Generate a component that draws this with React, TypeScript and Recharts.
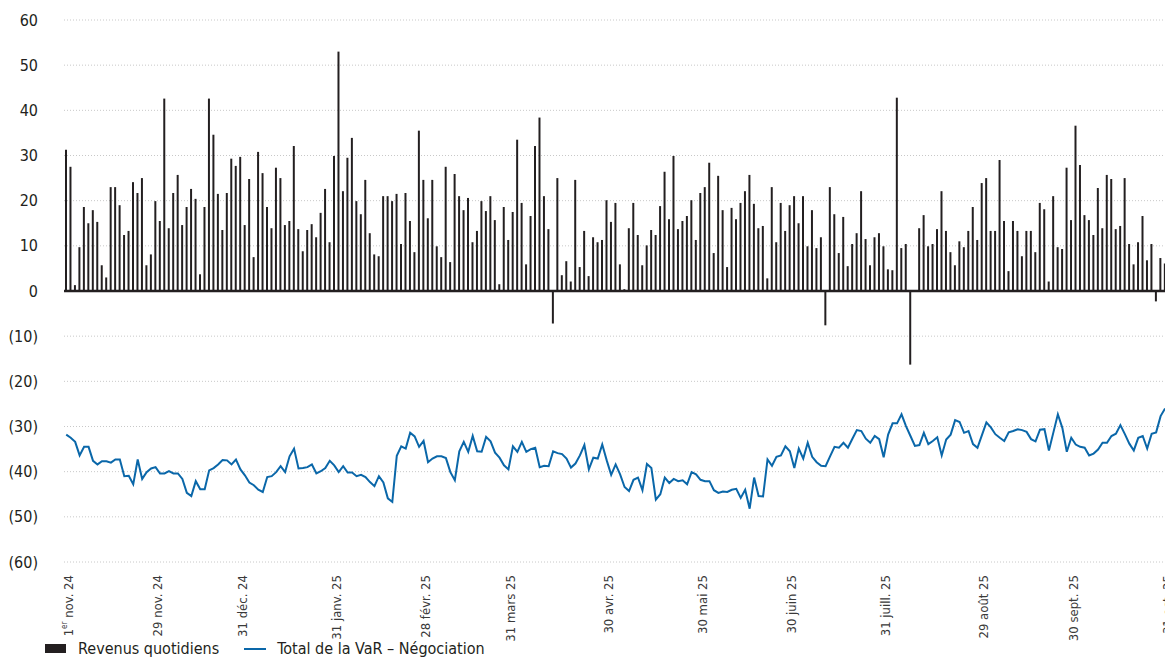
import React from 'react';
import { ComposedChart, Bar, Line, XAxis, YAxis, CartesianGrid, ReferenceLine } from 'recharts';

const revenus: number[] = [
  31.3, 27.5, 1.3, 9.7, 18.6, 15.0, 17.9, 15.3, 5.7, 3.0,
  23.0, 23.0, 19.0, 12.4, 13.3, 24.1, 21.7, 25.0, 5.7, 8.1,
  19.9, 15.5, 42.6, 13.9, 21.7, 25.7, 14.6, 18.6, 22.6, 20.4,
  3.7, 18.6, 42.6, 34.6, 21.5, 13.5, 21.7, 29.3, 27.7, 29.7,
  14.6, 24.8, 7.5, 30.8, 26.1, 18.6, 13.9, 27.3, 25.0, 14.6,
  15.5, 32.1, 13.7, 8.8, 13.5, 14.8, 11.9, 17.3, 22.6, 10.8,
  29.9, 53.0, 22.1, 29.5, 33.9, 19.9, 17.0, 24.6, 12.8, 8.1,
  7.7, 21.0, 21.0, 19.9, 21.5, 10.4, 21.7, 15.5, 8.6, 35.5,
  24.6, 16.1, 24.6, 9.9, 7.5, 27.5, 6.4, 25.9, 21.0, 17.9,
  20.6, 10.8, 13.3, 19.9, 17.7, 21.0, 15.7, 1.5, 18.6, 11.3,
  17.5, 33.5, 19.5, 5.9, 16.6, 32.1, 38.4, 21.0, 13.7, -7.2,
  25.0, 3.5, 6.6, 2.1, 24.6, 5.3, 13.3, 3.3, 11.9, 10.8,
  11.3, 20.1, 15.3, 19.5, 5.9, 0.4, 13.9, 19.5, 12.4, 5.7,
  10.1, 13.5, 12.4, 18.8, 26.4, 15.9, 29.9, 13.7, 15.5, 16.6,
  20.1, 11.3, 21.7, 23.0, 28.4, 8.4, 25.5, 17.9, 5.3, 18.4,
  15.9, 19.5, 22.1, 25.7, 19.3, 13.9, 14.4, 2.8, 23.0, 10.8,
  19.5, 13.3, 19.0, 21.0, 15.0, 21.0, 9.9, 17.9, 9.5, 11.9,
  -7.6, 23.0, 17.0, 8.4, 16.4, 5.5, 10.4, 12.8, 22.1, 11.5,
  5.7, 11.9, 12.8, 9.9, 4.8, 4.6, 42.8, 9.5, 10.4, -16.3,
  0, 13.9, 16.8, 9.9, 10.4, 13.7, 22.1, 13.3, 8.6, 5.7,
  11.0, 9.7, 13.3, 18.6, 11.3, 23.9, 25.0, 13.3, 13.3, 29.0,
  15.5, 4.4, 15.5, 13.3, 7.7, 13.3, 13.3, 8.6, 19.5, 18.1,
  2.1, 21.0, 9.7, 9.3, 27.3, 15.7, 36.6, 27.9, 16.8, 15.7,
  12.4, 22.8, 13.9, 25.7, 24.8, 13.7, 14.4, 25.0, 10.4, 5.9,
  10.8, 16.6, 6.8, 10.4, -2.3, 7.3, 6.1,
];

const varNegociation: number[] = [
  -31.8, -32.5, -33.4, -36.4, -34.5, -34.5, -37.6, -38.4, -37.7, -37.7,
  -38.0, -37.3, -37.3, -41.0, -40.9, -42.8, -37.3, -41.6, -40.1, -39.3,
  -39.0, -40.4, -40.4, -39.9, -40.4, -40.4, -41.6, -44.7, -45.4, -42.1,
  -43.9, -43.9, -39.7, -39.2, -38.4, -37.4, -37.5, -38.4, -37.3, -39.5,
  -40.8, -42.4, -43.0, -44.0, -44.5, -41.2, -41.0, -40.1, -38.8, -40.1,
  -36.6, -34.9, -39.3, -39.2, -39.0, -38.4, -40.4, -39.9, -39.2, -37.6,
  -38.6, -40.1, -38.8, -40.2, -40.2, -41.0, -40.7, -41.2, -42.3, -43.2,
  -41.0, -42.4, -45.9, -46.7, -36.5, -34.4, -34.9, -31.4, -32.2, -34.5,
  -33.2, -37.9, -37.1, -36.6, -36.6, -37.0, -40.1, -41.9, -35.5, -33.4,
  -35.6, -32.1, -35.5, -35.6, -32.3, -33.3, -35.8, -36.9, -38.6, -39.5,
  -34.4, -35.6, -33.4, -35.6, -35.0, -34.7, -39.0, -38.7, -38.8, -35.5,
  -35.9, -36.1, -37.1, -39.1, -38.2, -36.4, -34.1, -39.5, -36.9, -37.1,
  -34.0, -37.5, -40.7, -38.4, -40.6, -43.4, -44.3, -41.8, -41.3, -44.1,
  -38.3, -39.2, -46.2, -45.0, -41.3, -42.5, -41.6, -42.1,
  -41.9, -42.8, -40.1, -40.6, -41.8, -42.1, -42.1, -44.1, -44.7,
  -44.4, -44.5, -44.0, -43.8, -45.8, -44.0, -48.2, -41.3, -45.4, -45.5,
  -37.3, -38.7, -36.7, -36.4, -34.4, -35.5, -39.2, -34.9, -37.1, -33.6,
  -36.7, -37.9, -38.7, -38.8, -36.6, -34.5, -34.7, -33.6, -34.7, -32.7,
  -30.8, -31.0, -32.7, -33.6, -32.1, -32.8, -36.8, -31.8, -29.3, -29.3,
  -27.3, -29.9, -32.1, -34.3, -34.1, -31.4, -33.9, -33.2, -32.4, -36.4,
  -32.9, -31.8, -28.6, -29.0, -31.4, -31.0, -33.9, -34.7, -31.9, -29.1,
  -30.2, -31.7, -32.5, -33.2, -31.3, -31.0, -30.6, -30.8, -31.2, -32.8,
  -33.3, -30.7, -30.6, -35.3, -31.3, -27.3, -30.3, -35.6, -32.5, -34.0,
  -34.5, -34.7, -36.4, -36.0, -35.1, -33.6, -33.6, -32.1, -31.6, -29.7,
  -31.7, -33.8, -35.3, -32.5, -32.1, -34.9, -31.6, -31.3, -27.7, -26.0,
];

const tickIndex: number[] = [0, 20, 39, 60, 80, 99, 121, 142, 162, 183, 205, 225, 246];
const tickLabel: string[] = [
  '1er nov. 24', '29 nov. 24', '31 déc. 24', '31 janv. 25', '28 févr. 25', '31 mars 25',
  '30 avr. 25', '30 mai 25', '30 juin 25', '31 juill. 25', '29 août 25', '30 sept. 25', '31 oct. 25',
];
const yTicks: number[] = [-60, -50, -40, -30, -20, -10, 0, 10, 20, 30, 40, 50, 60];

const legendNames = ['Revenus quotidiens', 'Total de la VaR – Négociation'];

const FONT = "'Liberation Sans Narrow', 'DejaVu Sans Condensed', 'Roboto Condensed', sans-serif";
const BAR_COLOR = '#231f20';
const LINE_COLOR = '#0a67a9';

const data = revenus.map((r, i) => ({ i, rev: r, var: varNegociation[i] }));

const XTick = (props: any) => {
  const { x, payload } = props;
  const k = tickIndex.indexOf(payload.value);
  if (k < 0) return <g />;
  const label = tickLabel[k];
  const ax = x + 2;
  const ay = 575;
  const isFirst = label.startsWith('1er');
  return (
    <text
      x={ax}
      y={ay}
      transform={`rotate(-90, ${ax}, ${ay})`}
      textAnchor="end"
      dominantBaseline="central"
      fontSize={13}
      fontFamily={FONT}
      fill="#3a3a3a"
    >
      {isFirst ? (
        <>
          <tspan>1</tspan>
          <tspan fontSize={8} dy={-4}>er</tspan>
          <tspan dy={4}>{label.slice(3)}</tspan>
        </>
      ) : (
        label
      )}
    </text>
  );
};

const YTick = (props: any) => {
  const { y, payload } = props;
  const v = payload.value as number;
  const txt = v < 0 ? `(${-v})` : `${v}`;
  return (
    <text x={38} y={y} textAnchor="end" dominantBaseline="central" fontSize={16} fontFamily={FONT} fill="#231f20">
      {txt}
    </text>
  );
};

export default function App() {
  return (
    <div style={{ position: 'absolute', left: 0, top: 0, width: 1165, height: 658, overflow: 'hidden', background: '#fff' }}>
      <ComposedChart
        width={1170}
        height={658}
        data={data}
        margin={{ top: 20, right: 2.7, bottom: 66, left: 0 }}
        barCategoryGap={0}
      >
        <CartesianGrid vertical={false} stroke="#c8c8c8" strokeDasharray="1 2" />
        <XAxis
          dataKey="i"
          type="category"
          interval={0}
          tickLine={false}
          axisLine={false}
          height={30}
          tick={<XTick />}
        />
        <YAxis
          type="number"
          domain={[-60, 60]}
          ticks={yTicks}
          interval={0}
          axisLine={false}
          tickLine={false}
          width={64}
          tick={<YTick />}
        />
        <Bar dataKey="rev" fill={BAR_COLOR} barSize={2} isAnimationActive={false} />
        <ReferenceLine y={0} stroke={BAR_COLOR} strokeWidth={2.5} />
        <Line
          dataKey="var"
          type="linear"
          stroke={LINE_COLOR}
          strokeWidth={2}
          dot={false}
          isAnimationActive={false}
        />
      </ComposedChart>
      <div
        style={{
          position: 'absolute',
          left: 45,
          top: 639,
          display: 'flex',
          alignItems: 'center',
          fontFamily: FONT,
          fontSize: 16,
          color: '#231f20',
          whiteSpace: 'nowrap',
        }}
      >
        <span style={{ display: 'inline-block', width: 21, height: 9, background: BAR_COLOR, marginRight: 12 }} />
        <span>{legendNames[0]}</span>
        <span style={{ display: 'inline-block', width: 22, height: 2, background: LINE_COLOR, marginLeft: 25, marginRight: 11 }} />
        <span>{legendNames[1]}</span>
      </div>
    </div>
  );
}
